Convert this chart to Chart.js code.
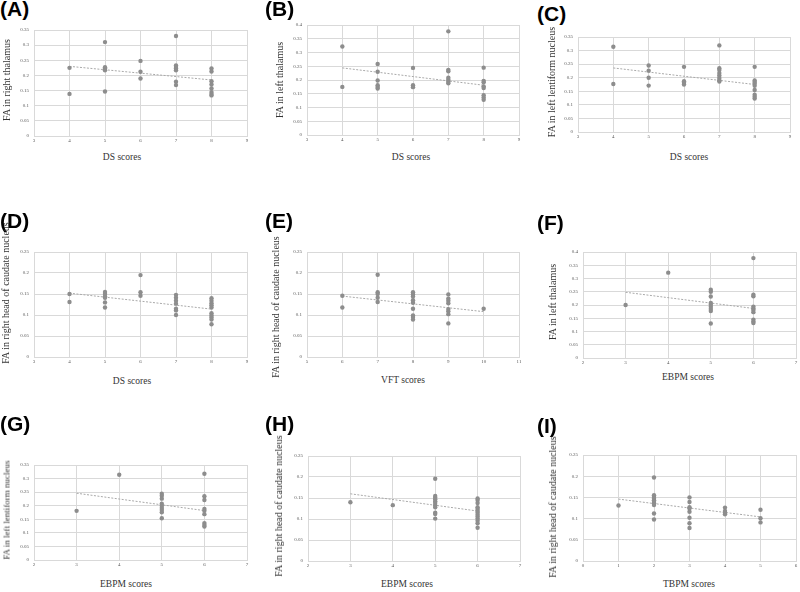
<!DOCTYPE html>
<html><head><meta charset="utf-8">
<script src="https://cdn.jsdelivr.net/npm/chart.js@4/dist/chart.umd.min.js"></script>
<style>
html,body{margin:0;padding:0;background:#fff}
body{width:800px;height:592px;position:relative;overflow:hidden}
.panel{position:absolute}
.lbl{position:absolute;font:bold 21px "Liberation Sans",Arial,sans-serif;line-height:21px;color:#000;white-space:nowrap}
.xt,.yt{position:absolute;font-family:"Liberation Serif","Times New Roman",serif;color:#333;white-space:nowrap;line-height:1}
.xt{transform:translate(-50%,-50%)}
.yt{transform:translate(-50%,-50%) rotate(-90deg)}
</style></head><body>
<script>
// ---- data (x categories, FA values at each category, trend line ends) ----
const aX = [4,5,6,7,8];
const aFA = [[0.225,0.139],[0.310,0.227,0.223,0.217,0.147],[0.248,0.212,0.190],[0.330,0.233,0.228,0.223,0.217,0.179,0.168],[0.223,0.213,0.181,0.170,0.157,0.145,0.139,0.134]];
const aTrendX = [4,8]; const aTrendY = [0.230,0.185];

const bX = [4,5,6,7,8];
const bFA = [[0.322,0.175],[0.258,0.230,0.198,0.181,0.175,0.169],[0.244,0.181,0.174],[0.377,0.237,0.232,0.208,0.201,0.194,0.188],[0.245,0.197,0.192,0.177,0.171,0.145,0.136,0.128]];
const bTrendX = [4,8]; const bTrendY = [0.244,0.181];

const cX = [4,5,6,7,8];
const cFA = [[0.314,0.177],[0.245,0.226,0.200,0.171],[0.240,0.187,0.181,0.175],[0.319,0.235,0.228,0.217,0.208,0.199,0.191,0.186],[0.240,0.190,0.184,0.178,0.170,0.155,0.137,0.130,0.123]];
const cTrendX = [4,8]; const cTrendY = [0.236,0.175];

const dX = [4,5,6,7,8];
const dFA = [[0.150,0.131],[0.155,0.150,0.144,0.141,0.130,0.118],[0.195,0.154,0.146],[0.148,0.141,0.134,0.127,0.115,0.111,0.100],[0.140,0.134,0.128,0.123,0.118,0.104,0.099,0.094,0.089,0.078]];
const dTrendX = [4,8]; const dTrendY = [0.152,0.114];

const eX = [6,7,8,9,10];
const eFA = [[0.146,0.118],[0.196,0.154,0.150,0.141,0.131],[0.154,0.149,0.144,0.135,0.129,0.115,0.099,0.095,0.089],[0.149,0.139,0.134,0.128,0.114,0.109,0.102,0.080],[0.115]];
const eTrendX = [6,10]; const eTrendY = [0.145,0.108];

const fX = [3,4,5,6];
const fFA = [[0.200],[0.322],[0.258,0.250,0.232,0.208,0.201,0.193,0.185,0.177,0.130],[0.377,0.239,0.233,0.194,0.187,0.181,0.173,0.145,0.138,0.132]];
const fTrendX = [3,6]; const fTrendY = [0.248,0.187];

const gX = [3,4,5,6];
const gFA = [[0.181],[0.314],[0.244,0.237,0.226,0.207,0.200,0.192,0.184,0.176,0.154],[0.318,0.235,0.221,0.188,0.181,0.169,0.136,0.129,0.123]];
const gTrendX = [3,6]; const gTrendY = [0.246,0.182];

const hX = [3,4,5,6];
const hFA = [[0.140],[0.133],[0.196,0.155,0.151,0.147,0.142,0.138,0.133,0.128,0.115,0.112,0.101],[0.149,0.145,0.138,0.128,0.124,0.119,0.115,0.110,0.106,0.101,0.096,0.090,0.079]];
const hTrendX = [3,6]; const hTrendY = [0.160,0.119];

const iX = [1,2,3,4,5];
const iFA = [[0.131],[0.197,0.155,0.151,0.147,0.143,0.139,0.136,0.132,0.112,0.098],[0.150,0.139,0.127,0.124,0.116,0.102,0.089,0.078],[0.126,0.118,0.114,0.110],[0.121,0.101,0.091]];
const iTrendX = [1,5]; const iTrendY = [0.146,0.104];

const panelLabels = ['(A)','(B)','(C)','(D)','(E)','(F)','(G)','(H)','(I)'];
const xTitles = ['DS scores','DS scores','DS scores','DS scores','VFT scores','EBPM scores','EBPM scores','EBPM scores','TBPM scores'];
const yTitles = ['FA in right thalamus','FA in left thalamus','FA in left lentiform nucleus','FA in right head of caudate nucleus','FA in right head of caudate nucleus','FA in left thalamus','FA in left lentiform nucleus','FA in right head of caudate nucleus','FA in right head of caudate nucleus'];
const xRanges = [[3,9],[3,9],[3,9],[3,9],[5,11],[2,7],[2,7],[2,7],[0,6]];
const yMax = [0.35,0.4,0.35,0.25,0.25,0.4,0.35,0.25,0.25];

// ---- layout (positions only) ----
const layout = [
  {plot:[34,26,247,136], lbl:[0,-2], xt:[122,158], yt:[7,80,10]},
  {plot:[307,21,519,135], lbl:[265,-2], xt:[411,158], yt:[280,80,10]},
  {plot:[578,33,790,132], lbl:[537,2.5], xt:[689,158], yt:[552,82,10]},
  {plot:[34,248,247,357], lbl:[0,209.5], xt:[132,382], yt:[6,293,10]},
  {plot:[307,248,519,357], lbl:[265,209.5], xt:[403,381], yt:[276,307,10]},
  {plot:[583,248,796,358], lbl:[537,211.5], xt:[688,378], yt:[553,302,10]},
  {plot:[34,461,247,560], lbl:[0,412.5], xt:[126,585], yt:[7,510,9]},
  {plot:[308,452,520,561], lbl:[265,412.5], xt:[407,585], yt:[279,506,10]},
  {plot:[583,451,796,561], lbl:[537,414.5], xt:[689,585], yt:[553,507,10]}
];

const series = [
  [aX,aFA,aTrendX,aTrendY],[bX,bFA,bTrendX,bTrendY],[cX,cFA,cTrendX,cTrendY],
  [dX,dFA,dTrendX,dTrendY],[eX,eFA,eTrendX,eTrendY],[fX,fFA,fTrendX,fTrendY],
  [gX,gFA,gTrendX,gTrendY],[hX,hFA,hTrendX,hTrendY],[iX,iFA,iTrendX,iTrendY]
];

const tickFont = {family:'"Liberation Serif","Times New Roman",serif', size:5};
const gridCol = '#d9d9d9';

series.forEach((s, k) => {
  const [cats, vals, tx, ty] = s;
  const L = layout[k];
  const [pl, pt, pr, pb] = L.plot;
  const YW = 28, XH = 10, PT = 4, PR = 6;
  const left = pl - YW, top = pt - PT, w = pr + PR - left, h = pb + XH - top;

  const div = document.createElement('div');
  div.className = 'panel';
  div.style.left = left + 'px'; div.style.top = top + 'px';
  div.style.width = w + 'px'; div.style.height = h + 'px';
  const cv = document.createElement('canvas');
  cv.width = w; cv.height = h;
  cv.style.width = w + 'px'; cv.style.height = h + 'px';
  div.appendChild(cv);
  document.body.appendChild(div);

  const pts = [];
  cats.forEach((c, j) => vals[j].forEach(v => pts.push({x:c, y:v})));
  const trend = tx.map((x, j) => ({x, y:ty[j]}));

  new Chart(cv, {
    type: 'scatter',
    data: {datasets: [
      {type:'line', data: trend, borderColor:'#a9a9a9', borderWidth:1, borderDash:[2,1.5], pointRadius:0, fill:false, order:1},
      {data: pts, backgroundColor:'#8d8d8d', borderWidth:0, pointRadius:2.2, pointHoverRadius:2.2, order:0}
    ]},
    options: {
      responsive:false, animation:false, devicePixelRatio:1,
      layout:{padding:{top:PT, right:PR, left:0, bottom:0}},
      plugins:{legend:{display:false}, tooltip:{enabled:false}},
      scales:{
        x:{type:'linear', min:xRanges[k][0], max:xRanges[k][1],
           ticks:{stepSize:1, font:tickFont, color:'#595959', padding:2, maxRotation:0, autoSkip:false},
           grid:{color:gridCol, drawTicks:false, lineWidth:1}, border:{color:gridCol},
           afterFit(sc){ sc.height = XH; }},
        y:{type:'linear', min:0, max:yMax[k],
           ticks:{stepSize:0.05, font:tickFont, color:'#595959', padding:5, autoSkip:false,
                  callback:v => String(+Number(v).toFixed(2))},
           grid:{color:gridCol, drawTicks:false, lineWidth:1}, border:{color:gridCol},
           afterFit(sc){ sc.width = YW; }}
      }
    }
  });

  const lb = document.createElement('div');
  lb.className = 'lbl'; lb.textContent = panelLabels[k];
  lb.style.left = L.lbl[0] + 'px'; lb.style.top = L.lbl[1] + 'px';
  document.body.appendChild(lb);

  const xt = document.createElement('div');
  xt.className = 'xt'; xt.textContent = xTitles[k];
  xt.style.left = L.xt[0] + 'px'; xt.style.top = L.xt[1] + 'px'; xt.style.fontSize = '9.5px';
  document.body.appendChild(xt);

  const yt = document.createElement('div');
  yt.className = 'yt'; yt.textContent = yTitles[k];
  yt.style.left = L.yt[0] + 'px'; yt.style.top = L.yt[1] + 'px'; yt.style.fontSize = L.yt[2] + 'px';
  document.body.appendChild(yt);
});
</script>
</body></html>
